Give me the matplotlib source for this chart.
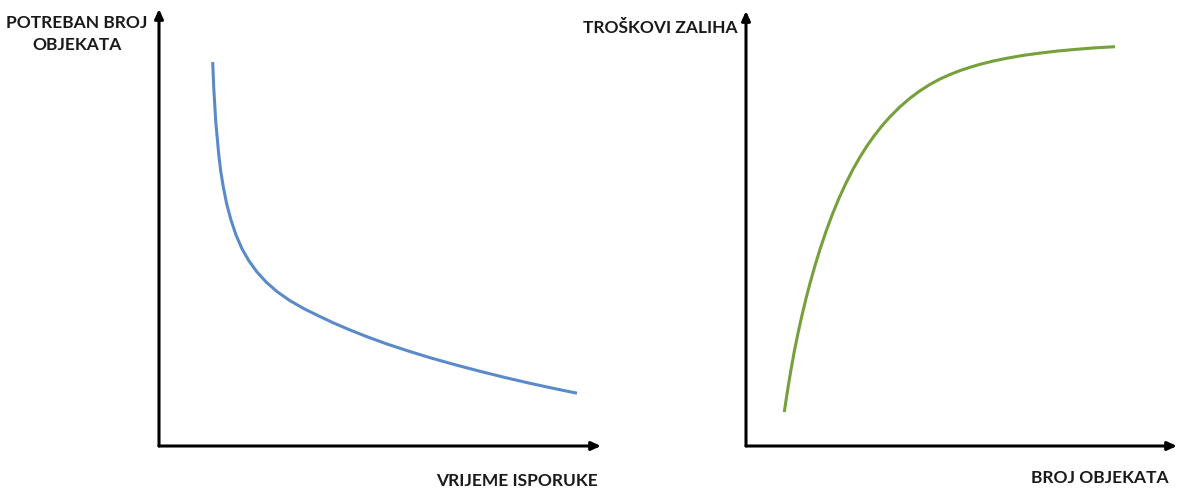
import matplotlib
matplotlib.use("Agg")
import matplotlib.pyplot as plt

W, H = 1180, 489

# Left chart: required number of objects vs delivery time
delivery_time = [53.7, 54.7, 56.7, 59.7, 61.7, 64.3, 67.7, 72, 77, 83, 90, 98, 107,
                 118, 131, 145, 159, 174, 191, 209, 228, 248, 271, 296, 321, 346,
                 371, 396, 418]
objects_needed = [384, 359, 325, 292, 275, 259, 242, 226, 211, 197.2, 185, 174, 164.1,
                  154.4, 145.3, 137.3, 130.4, 123.3, 116.0, 108.9, 102.0, 95.4, 88.3,
                  81.3, 74.7, 68.5, 62.7, 57.3, 52.8]

# Right chart: inventory costs vs number of objects
num_objects = [38.3, 40, 42.3, 45, 48.3, 52, 55.7, 60, 64, 69, 74, 80, 86, 93, 100,
               107, 114, 121, 128, 136, 144, 154, 164, 174, 184, 194, 204, 214, 224,
               234, 247, 261, 277, 294, 311, 327, 348, 369]
inventory_cost = [34, 45.5, 60.2, 76.4, 94.6, 112.8, 129.5, 147.4, 162.7, 180.4, 196.7,
                  214.5, 230.8, 247.8, 263.0, 276.7, 289.0, 300.1, 310.0, 320.2, 329.2,
                  339.2, 347.8, 355.2, 361.6, 367.0, 371.5, 375.4, 378.7, 381.7, 384.9,
                  387.8, 390.6, 392.9, 394.9, 396.4, 398.1, 399.3]

labels = {
    "left_y": "POTREBAN BROJ\nOBJEKATA",
    "left_x": "VRIJEME ISPORUKE",
    "right_y": "TROŠKOVI ZALIHA",
    "right_x": "BROJ OBJEKATA",
}

plt.rcParams['font.family'] = ['Lato', 'DejaVu Sans']

fig = plt.figure(figsize=(W / 100, H / 100), dpi=100)

def make_axes(x0, y0, x1, y1):
    # x0,y0 = origin (pixels), x1 = x-arrow tip, y1 = y-arrow tip
    ax = fig.add_axes([x0 / W, 1 - y0 / H, (x1 - x0) / W, (y0 - y1) / H])
    ax.set_xlim(0, x1 - x0)
    ax.set_ylim(0, y0 - y1)
    for s in ax.spines.values():
        s.set_visible(False)
    ax.set_xticks([])
    ax.set_yticks([])
    ax.patch.set_alpha(0)
    ap = dict(arrowstyle='-|>,head_length=0.55,head_width=0.25', color='black', lw=2.2,
              shrinkA=0, shrinkB=0)
    ax.annotate('', xy=(1, 0), xytext=(0, 0), xycoords='axes fraction', arrowprops=ap,
                annotation_clip=False)
    ax.annotate('', xy=(0, 1), xytext=(0, 0), xycoords='axes fraction', arrowprops=ap,
                annotation_clip=False)
    return ax

ax1 = make_axes(159, 447, 601, 10)
ax1.plot(delivery_time, objects_needed, color='#5B8ACB', lw=2.2,
         solid_capstyle='butt', solid_joinstyle='round')

ax2 = make_axes(746, 447, 1177, 12)
ax2.plot(num_objects, inventory_cost, color='#76A03C', lw=2.2,
         solid_capstyle='butt', solid_joinstyle='round')

def ftext(px, py, s, ha='center'):
    fig.text(px / W, 1 - py / H, s, ha=ha, va='center', fontsize=12.5, fontweight='bold',
             color='#1a1a1a', linespacing=1.4)

ftext(77, 34, labels["left_y"])
ftext(517, 481, labels["left_x"])
ftext(660, 28, labels["right_y"])
ftext(1100, 478, labels["right_x"])

fig.savefig("out.png", dpi=100)
